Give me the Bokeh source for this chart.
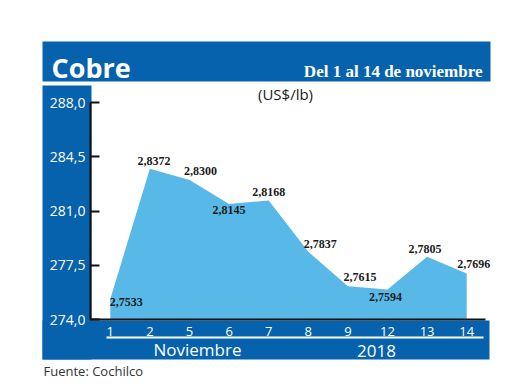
from bokeh.plotting import figure
from bokeh.models import Range1d, FixedTicker, BoxAnnotation, Label, ColumnDataSource, LinearAxis
from bokeh.core.properties import value
from bokeh.embed import file_html
from bokeh.resources import INLINE

# ---------------- data ----------------
days = ["1", "2", "5", "6", "7", "8", "9", "12", "13", "14"]
prices = [2.7533, 2.8372, 2.8300, 2.8145, 2.8168, 2.7837, 2.7615, 2.7594, 2.7805, 2.7696]
y_ticks = [274.0, 277.5, 281.0, 284.5, 288.0]
title_text = "Cobre"
subtitle_text = "Del 1 al 14 de noviembre"
unit_text = "(US$/lb)"
month_text = "Noviembre"
year_text = "2018"
source_text = "Fuente: Cochilco"

# ---------------- style / layout ----------------
BLUE = "#0662AD"
AREA = "#58B8E7"
W, H = 516, 386
N = len(days)
Y0, Y1 = y_ticks[0], y_ticks[-1]
X_FIRST, X_STEP = 109.8, 39.6          # pixel centre of first category, spacing
PY_BOT, PY_TOP = 319.0, 102.0          # pixel rows of Y0 and Y1
PPU = (PY_BOT - PY_TOP) / (Y1 - Y0)    # pixels per unit

# label offsets (pixels) relative to each point
dx = [16, 4, 11, 0, 0, 12, 12, -2, -2, 7]
dy = [3, -8, -9, 6, -8, -8, -9, 8, -8, -10]


def wx(px):  # pixel x -> data x
    return (px - X_FIRST) / X_STEP


def wy(py):  # pixel y -> data y
    return Y0 + (PY_BOT - py) / PPU


xs = list(range(N))
ys = [v * 100 for v in prices]
labels = [f"{v:.4f}".replace(".", ",") for v in prices]

src = ColumnDataSource(dict(x=xs, y=ys, base=[Y0] * N, lab=labels, dx=dx, dy=dy))

p = figure(width=W, height=H, output_backend="svg", toolbar_location=None,
           x_range=Range1d(wx(0), wx(W)), y_range=Range1d(wy(H), wy(0)),
           x_axis_type=None, y_axis_type=None,
           min_border_left=0, min_border_top=0, min_border_right=0, min_border_bottom=0)
p.outline_line_color = None
p.background_fill_color = "white"
p.border_fill_color = "white"
p.xgrid.visible = False
p.ygrid.visible = False


def box(l, r, t, b, color=BLUE):
    return BoxAnnotation(left=wx(l), right=wx(r), top=wy(t), bottom=wy(b),
                         fill_color=color, fill_alpha=1.0, line_color=None,
                         level="underlay")


p.add_layout(box(42, 490, 41, 81))    # title bar
p.add_layout(box(42, 91, 85, 359))    # left axis panel
p.add_layout(box(42, 489, 320, 359))  # bottom bar
p.add_layout(box(106, 483, 336, 338, "white"))  # separator line

# area
p.varea(x="x", y1="base", y2="y", source=src, fill_color=AREA, fill_alpha=1.0)

# value labels
p.text(x="x", y="y", text="lab", x_offset="dx", y_offset="dy", source=src,
       text_font=value("Liberation Sans Narrow"),
       text_font_style="bold", text_font_size="12px", text_color="#1a1a1a",
       text_align="center", text_baseline="middle")

# axes
ya = LinearAxis(fixed_location=wx(90), bounds=(Y0, Y1))
ya.ticker = FixedTicker(ticks=y_ticks)
ya.major_label_overrides = {t: f"{t:.1f}".replace(".", ",") for t in y_ticks}
ya.axis_line_color = "#111111"
ya.axis_line_width = 2
ya.major_tick_in = 9
ya.major_tick_out = 0
ya.major_tick_line_width = 2
ya.major_tick_line_color = "#111111"
ya.minor_tick_line_color = None
ya.major_label_standoff = 5
ya.major_label_text_color = "white"
ya.major_label_text_font = "Open Sans"
ya.major_label_text_font_size = "14px"
p.add_layout(ya, "left")

xa = LinearAxis(fixed_location=Y0, bounds=(wx(90), wx(485)))
xa.ticker = FixedTicker(ticks=xs)
xa.major_label_overrides = {i: d for i, d in zip(xs, days)}
xa.axis_line_color = "#111111"
xa.axis_line_width = 2
xa.major_tick_line_color = None
xa.minor_tick_line_color = None
xa.major_label_standoff = 1
xa.major_label_text_color = "white"
xa.major_label_text_font = "Open Sans"
xa.major_label_text_font_size = "13px"
p.add_layout(xa, "below")

# texts
p.add_layout(Label(x=wx(51), y=wy(67), text=title_text, text_color="white",
                   text_font="Open Sans", text_font_style="bold", text_font_size="27px",
                   text_align="left", text_baseline="alphabetic"))
p.add_layout(Label(x=wx(482), y=wy(71), text=subtitle_text, text_color="white",
                   text_font="Liberation Serif", text_font_style="bold", text_font_size="17px",
                   text_align="right", text_baseline="alphabetic"))
p.add_layout(Label(x=wx(285), y=wy(93), text=unit_text, text_color="#1a1a1a",
                   text_font="Open Sans", text_font_size="15px",
                   text_align="center", text_baseline="middle"))
p.add_layout(Label(x=wx(197), y=wy(349), text=month_text, text_color="white",
                   text_font="Open Sans", text_font_size="17px",
                   text_align="center", text_baseline="middle"))
p.add_layout(Label(x=wx(376), y=wy(350), text=year_text, text_color="white",
                   text_font="Open Sans", text_font_size="17px",
                   text_align="center", text_baseline="middle"))
p.add_layout(Label(x=wx(43), y=wy(370), text=source_text, text_color="#333333",
                   text_font="Open Sans", text_font_size="13px",
                   text_align="left", text_baseline="middle"))

open("out.html", "w").write(file_html(p, INLINE))
